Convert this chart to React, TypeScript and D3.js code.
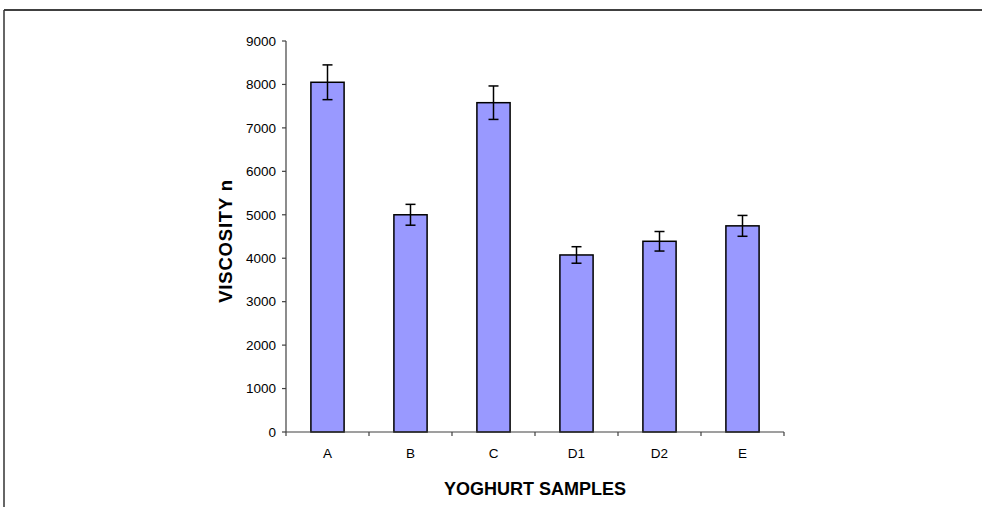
import React from "react";
import * as d3 from "d3";

const categories = ["A", "B", "C", "D1", "D2", "E"];
const viscosity = [8050, 5000, 7580, 4075, 4390, 4745];
const errors = [400, 240, 385, 190, 225, 240];
const yTicks = [0, 1000, 2000, 3000, 4000, 5000, 6000, 7000, 8000, 9000];

const W = 982;
const H = 507;
const left = 286;
const right = 784;
const top = 41;
const bottom = 432;

export default function App() {
  const x = d3
    .scaleBand<string>()
    .domain(categories)
    .range([left, right])
    .paddingInner(0.6)
    .paddingOuter(0.3);
  const y = d3.scaleLinear().domain([0, 9000]).range([bottom, top]);
  const step = x.step();
  const x0 = x.range()[0];
  const font = "'Liberation Sans', Arial, sans-serif";
  const axisColor = "#404040";

  return (
    <svg
      width={W}
      height={H}
      style={{ position: "absolute", left: 0, top: 0, display: "block", background: "#fff" }}
    >
      <rect x={0} y={0} width={W} height={H} fill="#fff" />
      {/* outer border */}
      <line x1={4} y1={10} x2={W} y2={10} stroke="#000" strokeWidth={1.5} />
      <line x1={4} y1={10} x2={4} y2={H} stroke="#333" strokeWidth={1.5} />

      {/* bars */}
      {categories.map((c, i) => (
        <rect
          key={c}
          x={x(c)}
          y={y(viscosity[i])}
          width={x.bandwidth()}
          height={y(0) - y(viscosity[i])}
          fill="#9999ff"
          stroke="#000"
          strokeWidth={1.5}
        />
      ))}

      {/* error bars */}
      {categories.map((c, i) => {
        const cx = (x(c) as number) + x.bandwidth() / 2;
        const hi = y(viscosity[i] + errors[i]);
        const lo = y(viscosity[i] - errors[i]);
        return (
          <g key={"e" + c} stroke="#000" strokeWidth={1.5}>
            <line x1={cx} x2={cx} y1={hi} y2={lo} />
            <line x1={cx - 5} x2={cx + 5} y1={hi} y2={hi} />
            <line x1={cx - 5} x2={cx + 5} y1={lo} y2={lo} />
          </g>
        );
      })}

      {/* y axis */}
      <line x1={left} x2={left} y1={top} y2={bottom} stroke={axisColor} strokeWidth={1.2} />
      {yTicks.map((t) => (
        <g key={"y" + t}>
          <line x1={left - 4} x2={left} y1={y(t)} y2={y(t)} stroke={axisColor} strokeWidth={1.2} />
          <text
            x={left - 10}
            y={y(t)}
            dy="0.35em"
            textAnchor="end"
            fontFamily={font}
            fontSize={13.5}
            fill="#000"
          >
            {t}
          </text>
        </g>
      ))}

      {/* x axis */}
      <line x1={left} x2={right} y1={bottom} y2={bottom} stroke={axisColor} strokeWidth={1.2} />
      {d3.range(categories.length + 1).map((i) => (
        <line
          key={"xt" + i}
          x1={x0 + i * step}
          x2={x0 + i * step}
          y1={bottom}
          y2={bottom + 4}
          stroke={axisColor}
          strokeWidth={1.2}
        />
      ))}
      {categories.map((c) => (
        <text
          key={"xl" + c}
          x={(x(c) as number) + x.bandwidth() / 2}
          y={457.5}
          textAnchor="middle"
          fontFamily={font}
          fontSize={13.5}
          fill="#000"
        >
          {c}
        </text>
      ))}

      {/* axis titles */}
      <text
        x={535}
        y={495}
        textAnchor="middle"
        fontFamily={font}
        fontSize={18}
        fontWeight="bold"
        fill="#000"
      >
        YOGHURT SAMPLES
      </text>
      <text
        transform={`translate(232, 241) rotate(-90)`}
        textAnchor="middle"
        fontFamily={font}
        fontSize={18.5}
        fontWeight="bold"
        letterSpacing={0.8}
        fill="#000"
      >
        VISCOSITY n
      </text>
    </svg>
  );
}
